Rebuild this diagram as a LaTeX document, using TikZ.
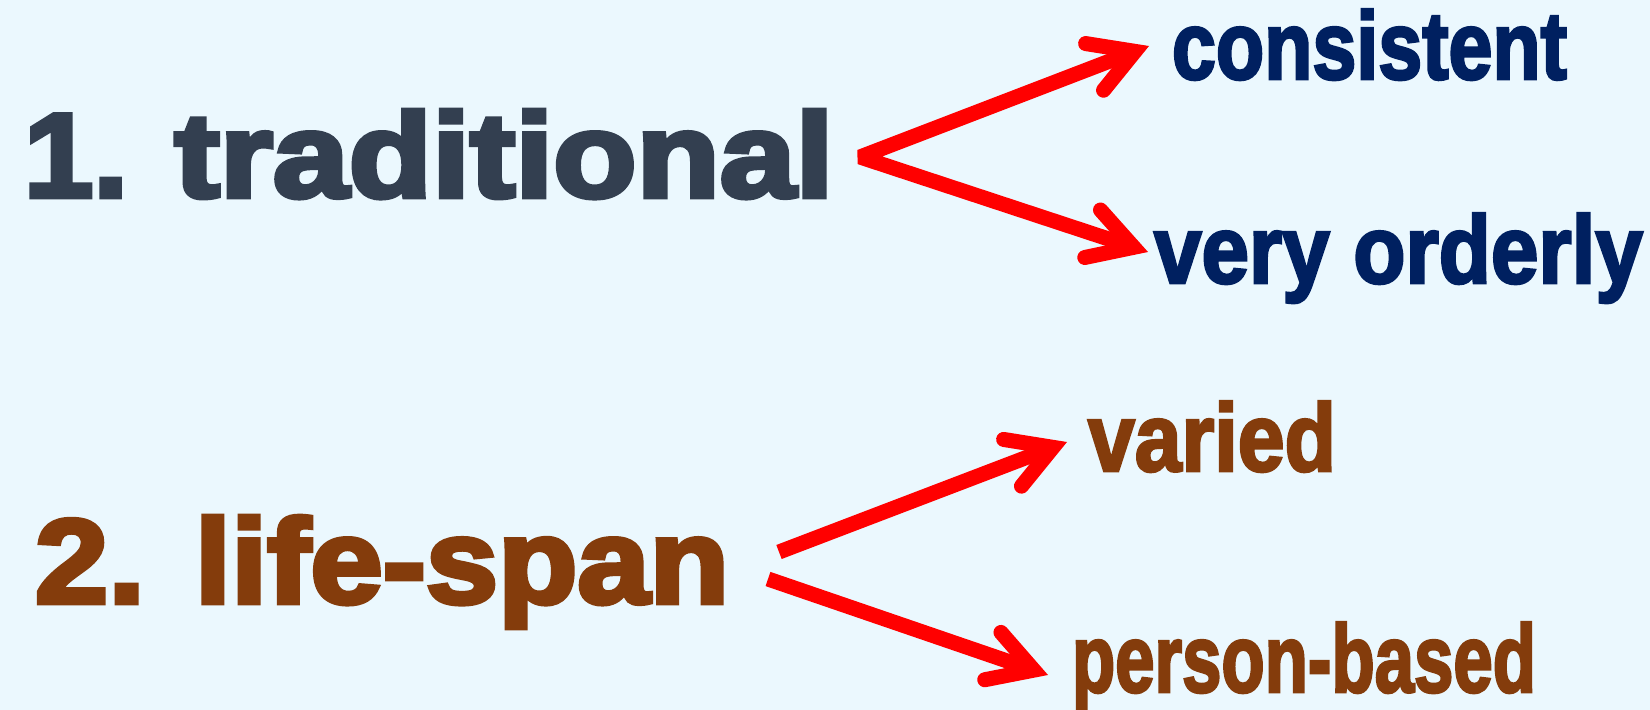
\documentclass[tikz,border=0pt]{standalone}
\usepackage{fontspec}
\usetikzlibrary{calc}
\IfFontExistsTF{Liberation Sans Bold}
  {\newfontfamily\heavyL{Liberation Sans Bold}[FakeBold=4]
   \newfontfamily\heavyR{Liberation Sans Bold}[FakeBold=3]}
  {\newfontfamily\heavyL{Liberation Sans}[UprightFont={* Bold}, FakeBold=4]
   \newfontfamily\heavyR{Liberation Sans}[UprightFont={* Bold}, FakeBold=3]}
\definecolor{bg}{RGB}{235,248,254}
\definecolor{slate}{RGB}{51,63,80}
\definecolor{navy}{RGB}{0,32,96}
\definecolor{brown}{RGB}{132,60,12}
\definecolor{arrred}{RGB}{255,0,0}
\newsavebox\fitbox
\newcommand\fitw[2]{\sbox\fitbox{#2}\pgfmathparse{#1/\wd\fitbox}\scalebox{\pgfmathresult}[1]{\usebox\fitbox}}
\newcommand\bigL{\heavyL\fontsize{60}{60}\selectfont}
\newcommand\bigR{\heavyR\fontsize{48}{48}\selectfont}
\tikzset{
  lbl/.style={anchor=base west, inner sep=0pt, outer sep=0pt},
  shaft/.style={draw=arrred, line width=7.5pt, line cap=butt, line join=bevel},
  head/.style={draw=arrred, line width=7.5pt, line cap=round, line join=miter},
}
% arrow head: #1 = outer tip, #2 = point the shaft comes from
\newcommand\arrhead[2]{%
  \path ($(#1)!7.5pt!(#2)$) coordinate (hv);
  \draw[head] ($(hv)!25pt!30:(#2)$) -- (hv) -- ($(hv)!25pt!-30:(#2)$);}
\begin{document}
\begin{tikzpicture}[x=0.5pt,y=-0.5pt]
\fill[bg] (0,0) rectangle (1650,710);
\useasboundingbox (0,0) rectangle (1650,710);
% main terms
\node[lbl, text=slate] (trad) at (24,197) {\fitw{52}{\bigL 1.}\hspace{23.25pt}\fitw{329.5}{\bigL traditional}};
\node[lbl, text=brown] (life) at (35,603) {\fitw{55}{\bigL 2.}\hspace{25pt}\fitw{267}{\bigL life-span}};
% outcomes
\node[lbl, text=navy] (cons) at (1172,79) {\fitw{197.5}{\bigR consistent}};
\node[lbl, text=navy] (ord) at (1154,283) {\fitw{244.5}{\bigR very orderly}};
\node[lbl, text=brown] (var) at (1088,471) {\fitw{124}{\bigR varied}};
\node[lbl, text=brown] (pers) at (1072,692) {\fitw{232}{\bigR person-based}};
% arrow coordinates
\coordinate (v1) at (860,157);
\coordinate (t1) at (1149,46);
\coordinate (t2) at (1148,252);
\coordinate (s3) at (779,552);
\coordinate (t3) at (1067,442);
\coordinate (s4) at (768,579);
\coordinate (t4) at (1048,675);
% arrows
\draw[shaft, shorten <=8pt, shorten >=8pt] (t1) -- (v1) -- (t2);
\arrhead{t1}{v1}
\arrhead{t2}{v1}
\draw[shaft, shorten >=8pt] (s3) -- (t3);
\arrhead{t3}{s3}
\draw[shaft, shorten >=8pt] (s4) -- (t4);
\arrhead{t4}{s4}
\end{tikzpicture}
\end{document}
